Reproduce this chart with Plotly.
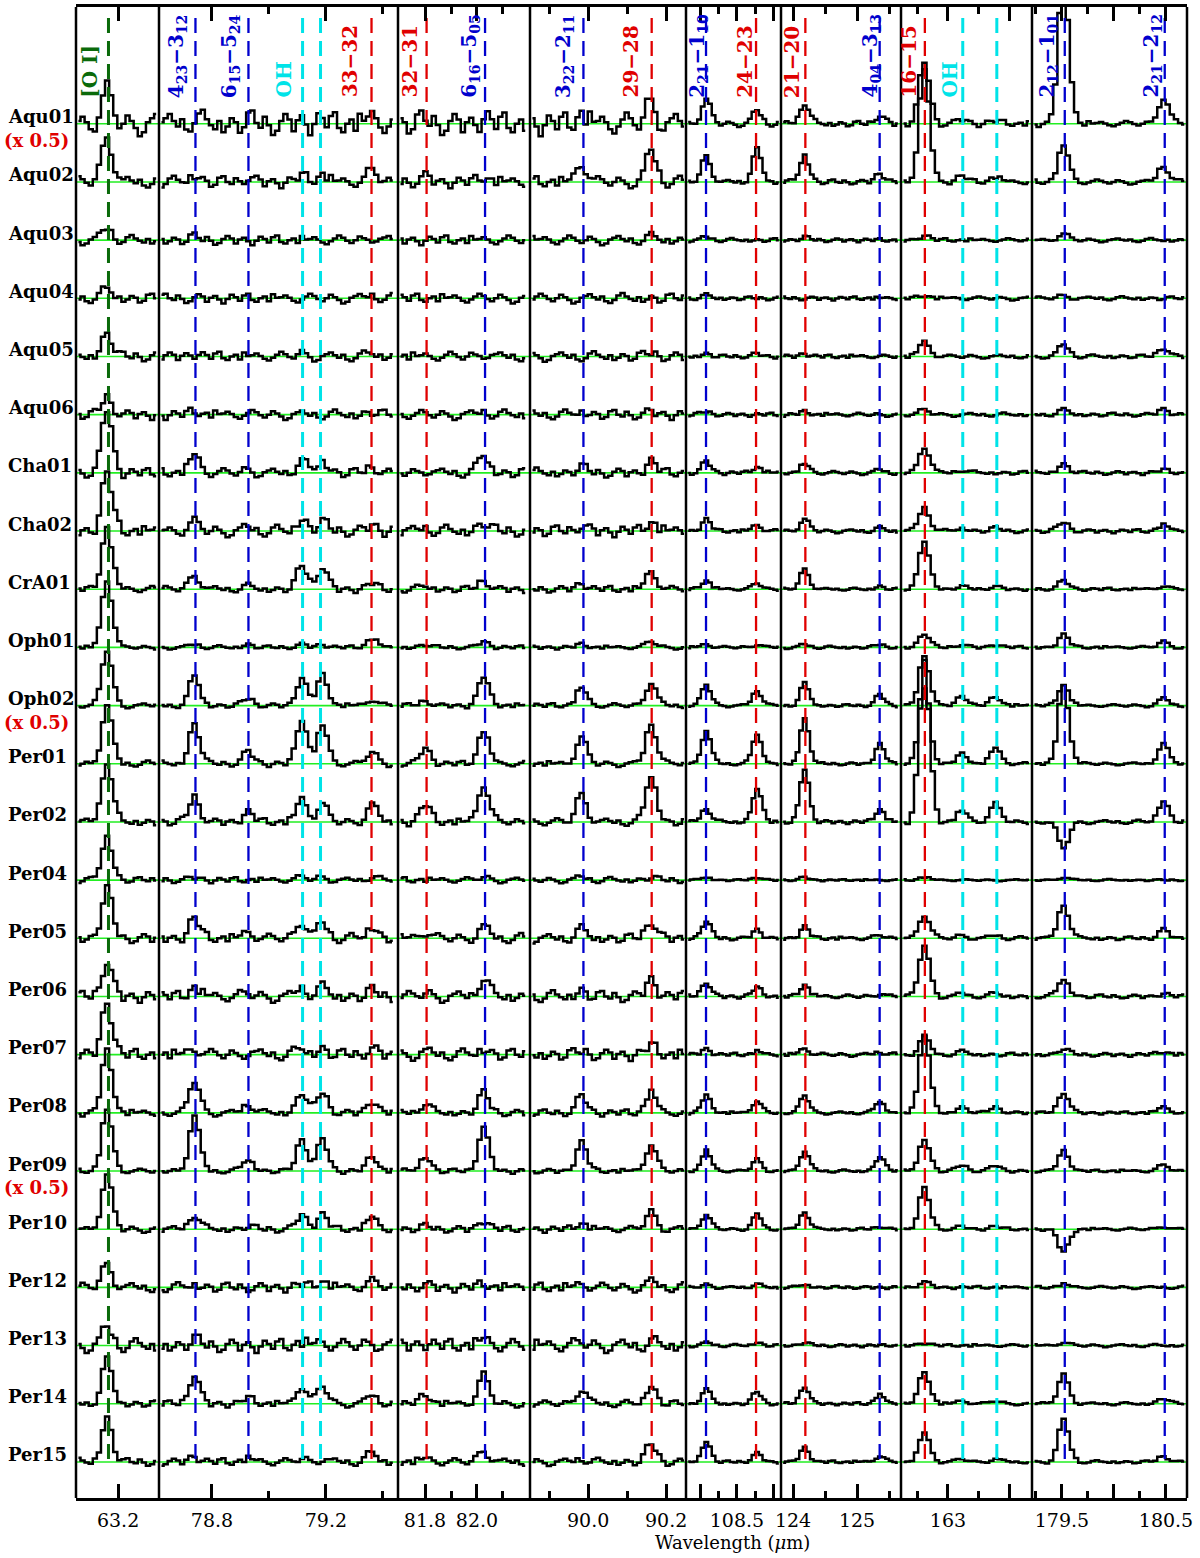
import numpy as np
import plotly.graph_objects as go

# ---------------- data ----------------
OBJECTS = ["Aqu01", "Aqu02", "Aqu03", "Aqu04", "Aqu05", "Aqu06", "Cha01", "Cha02",
           "CrA01", "Oph01", "Oph02", "Per01", "Per02", "Per04", "Per05", "Per06",
           "Per07", "Per08", "Per09", "Per10", "Per12", "Per13", "Per14", "Per15"]
HALF_SCALED = ["Aqu01", "Oph02", "Per09"]

# rest wavelengths (micron) of the marked lines
LINE_WAVE = [63.184, 78.742, 78.928, 79.118, 79.181, 79.360, 81.806, 82.031, 89.988,
             90.163, 108.073, 108.763, 124.193, 125.354, 162.812, 163.120, 163.397,
             179.527, 180.488]
LINE_SPECIES = ["OI", "H2O", "H2O", "OH", "OH", "CO", "CO", "H2O", "H2O", "CO", "H2O",
                "CO", "CO", "H2O", "CO", "OH", "OH", "H2O", "H2O"]
LINE_PANEL = [0, 1, 1, 1, 1, 1, 2, 2, 3, 3, 4, 4, 5, 5, 6, 6, 6, 7, 7]

# peak heights (in units of the row spacing, as displayed) per line, per object
P_OI = [0.55, 0.8, 0.2, 0.15, 0.4, 0.3, 1.1, 1.0, 1.05, 1.15, 0.95, 1.0, 1.05, 0.75, 0.85, 0.6, 0.9, 1.05, 1.05, 0.92, 0.4, 0.3, 0.75, 0.75]
P_423 = [0.08, 0.12, 0.05, 0, 0.05, 0.05, 0.3, 0.15, 0.25, 0.05, 0.5, 0.69, 0.43, 0.05, 0.35, 0.15, 0.1, 0.55, 0.95, 0.25, 0.05, 0.1, 0.5, 0.1]
P_615 = [0.05, 0.08, 0, 0, 0, 0, 0.05, 0.05, 0.05, 0.05, 0.12, 0.22, 0.17, 0, 0.1, 0.05, 0.05, 0.15, 0.2, 0.05, 0, 0, 0.1, 0.05]
P_OH79A = [0.05, 0.1, 0, 0, 0.05, 0, 0.2, 0.2, 0.4, 0.05, 0.48, 0.77, 0.39, 0.05, 0.3, 0.15, 0.1, 0.35, 0.55, 0.25, 0.05, 0.05, 0.3, 0.05]
P_OH79B = [0.05, 0.12, 0, 0, 0, 0, 0.2, 0.15, 0.38, 0.05, 0.52, 0.65, 0.3, 0.05, 0.25, 0.15, 0.1, 0.35, 0.55, 0.25, 0.1, 0.05, 0.3, 0.05]
P_CO33 = [0.1, 0.19, 0.05, 0.05, 0.05, 0.05, 0.1, 0.1, 0.1, 0.15, 0.1, 0.2, 0.3, 0.05, 0.2, 0.1, 0.1, 0.2, 0.25, 0.2, 0.1, 0.05, 0.15, 0.15]
P_CO32 = [0.05, 0.1, 0, 0, 0, 0, 0.05, 0.05, 0.05, 0.05, 0.08, 0.27, 0.3, 0, 0.1, 0.05, 0.05, 0.15, 0.25, 0.05, 0.05, 0.05, 0.15, 0.05]
P_616 = [0.1, 0.08, 0, 0, 0.05, 0.05, 0.3, 0.15, 0.15, 0.1, 0.5, 0.57, 0.65, 0.05, 0.2, 0.3, 0.1, 0.35, 0.75, 0.15, 0.05, 0.1, 0.5, 0.2]
P_322 = [0.15, 0.3, 0, 0, 0, 0.05, 0.1, 0.1, 0.1, 0.05, 0.3, 0.45, 0.48, 0.05, 0.15, 0.1, 0.05, 0.3, 0.5, 0.1, 0.05, 0.05, 0.25, 0.05]
P_CO29 = [0.38, 0.53, 0.05, 0, 0.05, 0.05, 0.2, 0.15, 0.3, 0.1, 0.4, 0.7, 0.8, 0.05, 0.3, 0.3, 0.15, 0.35, 0.45, 0.3, 0.1, 0.05, 0.3, 0.3]
P_221 = [0.41, 0.45, 0.05, 0.05, 0.05, 0.05, 0.2, 0.2, 0.15, 0.05, 0.36, 0.58, 0.24, 0.05, 0.3, 0.25, 0.1, 0.3, 0.35, 0.25, 0.05, 0.05, 0.25, 0.35]
P_CO24 = [0.22, 0.55, 0, 0, 0.05, 0, 0.1, 0.1, 0.1, 0.05, 0.26, 0.51, 0.58, 0.05, 0.15, 0.15, 0.05, 0.2, 0.2, 0.25, 0.05, 0.05, 0.2, 0.15]
P_CO21 = [0.36, 0.46, 0.05, 0, 0.05, 0.05, 0.15, 0.2, 0.35, 0.05, 0.38, 0.77, 0.91, 0.05, 0.2, 0.2, 0.1, 0.3, 0.35, 0.3, 0.05, 0.05, 0.3, 0.25]
P_404 = [0.15, 0.15, 0, 0, 0, 0, 0.05, 0.05, 0.05, 0.05, 0.19, 0.34, 0.22, 0, 0.05, 0.05, 0.05, 0.2, 0.25, 0.05, 0, 0, 0.15, 0.1]
P_CO16 = [1.05, 1.9, 0.08, 0.05, 0.25, 0.08, 0.45, 0.4, 0.82, 0.24, 0.85, 1.29, 2.8, 0.05, 0.4, 0.87, 0.3, 1.35, 0.55, 0.7, 0.1, 0.05, 0.55, 0.5]
P_OH163A = [0.08, 0.1, 0, 0, 0, 0, 0.05, 0.05, 0.05, 0.05, 0.17, 0.17, 0.19, 0, 0.05, 0.05, 0.05, 0.1, 0.1, 0.05, 0, 0, 0.05, 0.05]
P_OH163B = [0.05, 0.08, 0, 0, 0, 0, 0, 0.05, 0.05, 0.05, 0.15, 0.27, 0.31, 0, 0.05, 0.05, 0, 0.1, 0.1, 0.05, 0, 0, 0.05, 0.05]
P_212 = [2.5, 0.62, 0.1, 0.05, 0.2, 0.08, 0.15, 0.15, 0.15, 0.22, 0.35, 1.35, -0.45, 0.05, 0.58, 0.3, 0.1, 0.35, 0.35, -0.4, 0.05, 0.05, 0.5, 0.72]
P_221B = [0.45, 0.28, 0, 0, 0.15, 0.1, 0.05, 0.1, 0.05, 0.1, 0.12, 0.34, 0.36, 0, 0.15, 0.05, 0.05, 0.1, 0.1, 0.05, 0, 0, 0.1, 0.1]

PEAKS = [P_OI, P_423, P_615, P_OH79A, P_OH79B, P_CO33, P_CO32, P_616, P_322, P_CO29,
         P_221, P_CO24, P_CO21, P_404, P_CO16, P_OH163A, P_OH163B, P_212, P_221B]

# residual (noise) amplitude per object, short (<100 um) and long wavelength segments
NOISE_SHORT = [0.24, 0.12, 0.1, 0.1, 0.1, 0.1, 0.1, 0.12, 0.07, 0.04, 0.05, 0.06, 0.08, 0.06,
               0.1, 0.12, 0.12, 0.07, 0.05, 0.07, 0.1, 0.14, 0.07, 0.08]
NOISE_LONG = [0.06, 0.05, 0.04, 0.04, 0.04, 0.04, 0.04, 0.04, 0.03, 0.03, 0.03, 0.03, 0.04, 0.02,
              0.04, 0.04, 0.04, 0.03, 0.03, 0.03, 0.03, 0.03, 0.03, 0.03]
NOISE_PATTERN = [0.2, 0.5, 0.1, -0.4, -0.7, -0.2, 0.3, 0.8, 0.4, -0.1, -0.5, 0.0, 0.6, 0.2,
                 -0.3, -0.9, -0.6, 0.1, 0.4, 0.7, 0.2, -0.2, 0.3, -0.5, -0.8, -0.3, 0.5, 0.9,
                 0.3, -0.1, -0.4, 0.2, -0.6, -0.2, 0.4, 0.1, -0.7, -0.4, 0.6, 0.8, 0.0, -0.3,
                 0.5, -0.1, -0.8, -0.5, 0.2, 0.7, 0.3, -0.6, 0.1, 0.4, -0.2, -0.9, -0.1, 0.6,
                 0.2, -0.4, 0.5, 0.8, -0.3, -0.6, 0.0, 0.3, -0.5, 0.7, 0.1]
PROFILE = [0.06, 0.28, 0.75, 1.0, 0.72, 0.3, 0.08]

# top labels
LABEL_TEXT = ["[O I]", "4<sub>23</sub>−3<sub>12</sub>", "6<sub>15</sub>−5<sub>24</sub>", "OH",
              "33−32", "32−31", "6<sub>16</sub>−5<sub>05</sub>", "3<sub>22</sub>−2<sub>11</sub>",
              "29−28", "2<sub>21</sub>−1<sub>10</sub>", "24−23", "21−20",
              "4<sub>04</sub>−3<sub>13</sub>", "16−15", "OH", "2<sub>12</sub>−1<sub>01</sub>",
              "2<sub>21</sub>−2<sub>12</sub>"]
LABEL_LINE = [0, 1, 2, 3, 5, 6, 7, 8, 9, 10, 11, 12, 13, 14, 15, 17, 18]

# panels (wavelength windows) and their ticks
PANEL_RANGE = [(63.130, 63.268), (78.614, 79.453), (81.696, 82.204), (89.851, 90.251),
               (107.797, 109.107), (123.8125, 125.6875), (162.618, 163.683), (179.212, 180.702)]
PANEL_MAJOR = [[63.2], [78.8, 79.2], [81.8, 82.0], [90.0, 90.2], [108.0, 108.5, 109.0],
               [124, 125], [163.0, 163.5], [179.5, 180.0, 180.5]]
PANEL_MAJOR_TEXT = [["63.2"], ["78.8", "79.2"], ["81.8", "82.0"], ["90.0", "90.2"],
                    ["", "108.5", ""], ["124", "125"], ["163", ""], ["179.5", "", "180.5"]]
PANEL_MINOR = [[], [79.0, 79.4], [81.9, 82.1], [89.9, 90.1], [108.25, 108.75],
               [124.5, 125.5], [162.75, 163.25], [179.25, 179.75, 180.25]]

# ---------------- style ----------------
PANEL_BIN = [0.0068, 0.0145, 0.016, 0.0105, 0.05, 0.056, 0.034, 0.04]
PANEL_EDGES_PX = [76, 159, 398, 530, 686, 781, 901, 1032, 1187]
PLOT_W = 1111.0
PLOT_H = 1494.0
SPECIES_COLOR = {"OI": "#0a6a0a", "H2O": "#0000cd", "OH": "#00e3e8", "CO": "#e00000"}
SPECIES_WIDTH = {"OI": 3, "H2O": 2.3, "OH": 3, "CO": 2.3}
LABEL_DX = [-18, -19, -19, -19, -22, -17, -15, -20, -21, -8, -11, -14, -9, -16, -13, -17, -13]
SERIF = "DejaVu Serif"

fig = go.Figure()


def axname(p):
    return "x" if p == 0 else "x%d" % (p + 1)


# baselines
for p in range(8):
    r0, r1 = PANEL_RANGE[p]
    bx, by = [], []
    for i in range(len(OBJECTS)):
        bx += [r0, r1, None]
        by += [-i, -i, None]
    fig.add_trace(go.Scatter(x=bx, y=by, mode="lines", xaxis=axname(p), yaxis="y",
                             line=dict(color="#22ee22", width=1.6), hoverinfo="skip"))

# spectra
for p in range(8):
    r0, r1 = PANEL_RANGE[p]
    bw = PANEL_BIN[p]
    xs = np.arange(r0 + 0.6 * bw, r1 - 0.4 * bw, bw)
    for i, name in enumerate(OBJECTS):
        lvl = NOISE_SHORT[i] if p < 4 else NOISE_LONG[i]
        ys = np.array([lvl * NOISE_PATTERN[(j + 7 * i + 17 * p) % len(NOISE_PATTERN)]
                       for j in range(len(xs))])
        for li, w in enumerate(LINE_WAVE):
            if LINE_PANEL[li] != p:
                continue
            c = int(round((w - xs[0]) / bw))
            for k, f in enumerate(PROFILE):
                idx = c + k - 3
                if 0 <= idx < len(xs):
                    ys[idx] += PEAKS[li][i] * f
        fig.add_trace(go.Scatter(x=xs, y=ys - i, mode="lines", xaxis=axname(p), yaxis="y",
                                 line=dict(color="black", width=2.5, shape="hvh"),
                                 hoverinfo="skip"))

# dashed line markers (drawn from the top down so the dash pattern starts at the top)
for li, w in enumerate(LINE_WAVE):
    sp = LINE_SPECIES[li]
    fig.add_trace(go.Scatter(x=[w, w], y=[1.82, -len(OBJECTS) + 1], mode="lines",
                             xaxis=axname(LINE_PANEL[li]), yaxis="y",
                             line=dict(color=SPECIES_COLOR[sp], width=SPECIES_WIDTH[sp],
                                       dash="15px,8px"), hoverinfo="skip"))

# axes
layout = dict(
    width=1200, height=1558, showlegend=False,
    margin=dict(l=76, r=13, t=4, b=60),
    plot_bgcolor="white", paper_bgcolor="white",
    yaxis=dict(range=[-23.62, 2.007], showgrid=False, zeroline=False, showticklabels=False,
               ticks="", showline=False, anchor="x", fixedrange=True),
)
for p in range(8):
    d0 = (PANEL_EDGES_PX[p] - 76) / PLOT_W
    d1 = (PANEL_EDGES_PX[p + 1] - 76) / PLOT_W
    key = "xaxis" if p == 0 else "xaxis%d" % (p + 1)
    layout[key] = dict(
        domain=[d0, d1], range=list(PANEL_RANGE[p]), anchor="y",
        showline=True, linecolor="black", linewidth=2.5, mirror="ticks",
        ticks="inside", ticklen=14, tickwidth=2.5, tickcolor="black",
        tickmode="array", tickvals=PANEL_MAJOR[p], ticktext=PANEL_MAJOR_TEXT[p],
        minor=dict(tickmode="array", tickvals=PANEL_MINOR[p], ticks="inside", ticklen=7,
                   tickwidth=2.5, tickcolor="black", showgrid=False),
        showgrid=False, zeroline=False, ticklabelstandoff=3,
        tickfont=dict(family=SERIF, size=19, color="black"),
    )
fig.update_layout(**layout)

# panel separators and right frame side
shapes = []
for p in range(8):
    shapes.append(dict(type="line", xref=axname(p) + " domain", x0=0, x1=0,
                       yref="paper", y0=0, y1=1, line=dict(color="black", width=2.5)))
shapes.append(dict(type="line", xref="x8 domain", x0=1, x1=1, yref="paper", y0=0, y1=1,
                   line=dict(color="black", width=2.5)))
fig.update_layout(shapes=shapes)

# annotations
ann = []
for i, name in enumerate(OBJECTS):
    ann.append(dict(text="<b>%s</b>" % name, xref="paper", yref="y", x=-0.063, y=-i + 0.12,
                    xanchor="left", yanchor="middle", showarrow=False,
                    font=dict(family=SERIF, size=18, color="black")))
    if name in HALF_SCALED:
        ann.append(dict(text="<b>(x 0.5)</b>", xref="paper", yref="y", x=-0.067, y=-i - 0.29,
                        xanchor="left", yanchor="middle", showarrow=False,
                        font=dict(family=SERIF, size=18, color="#e00000")))
for k, txt in enumerate(LABEL_TEXT):
    li = LABEL_LINE[k]
    sp = LINE_SPECIES[li]
    ann.append(dict(text="<b>%s</b>" % txt, xref=axname(LINE_PANEL[li]), yref="paper",
                    x=LINE_WAVE[li], y=(1498 - 97) / PLOT_H, xanchor="center",
                    yanchor="bottom", xshift=LABEL_DX[k], textangle=-90, showarrow=False,
                    font=dict(family=SERIF, size=20, color=SPECIES_COLOR[sp])))
ann.append(dict(text="Wavelength (<i>μ</i>m)", xref="paper", yref="paper",
                x=(732 - 76) / PLOT_W, y=(1498 - 1543) / PLOT_H, xanchor="center",
                yanchor="middle", showarrow=False,
                font=dict(family=SERIF, size=18, color="black")))
fig.update_layout(annotations=ann)

fig.write_html("out.html", config={"displayModeBar": False},
               post_script="document.body.style.margin='0px';document.body.style.padding='0px';")
